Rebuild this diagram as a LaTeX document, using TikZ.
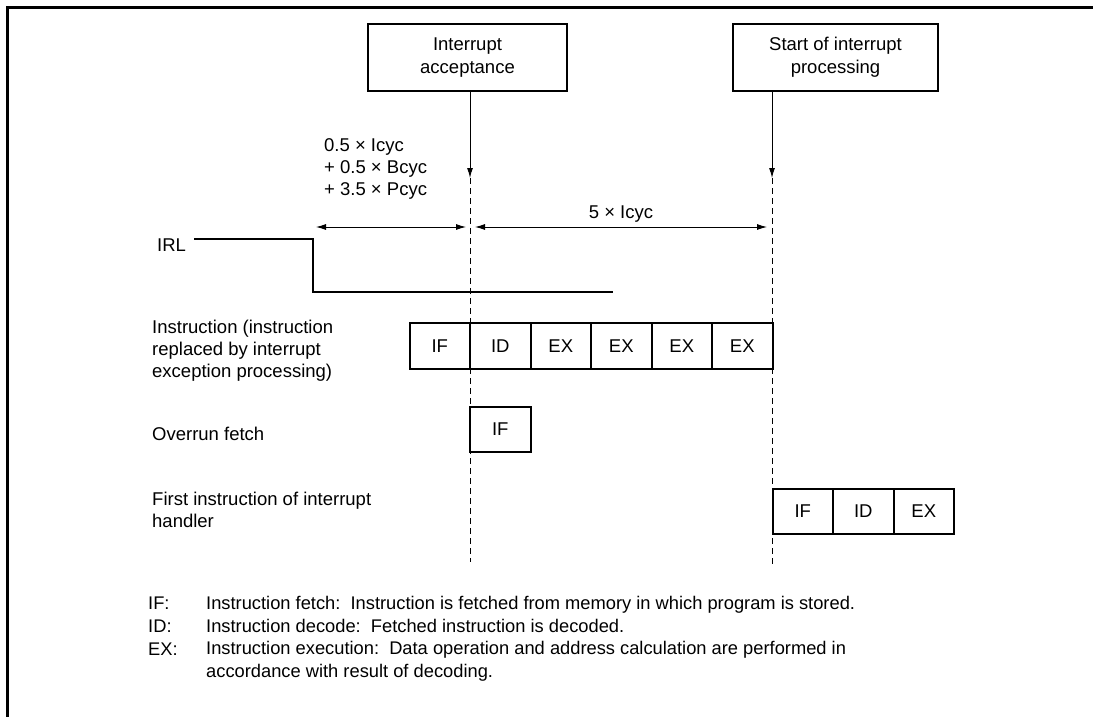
\documentclass[tikz,border=0pt]{standalone}
\usepackage{fontspec}
\setmainfont{Liberation Sans}
\usetikzlibrary{positioning}
\usetikzlibrary{arrows.meta}

\tikzset{
	stage/.style={draw, line width=2pt, minimum width=60.5pt, minimum height=46pt,
		inner sep=0pt, outer sep=0pt, font=\fontsize{18.5}{22.5}\selectfont},
	event/.style={draw, line width=2.2pt, minimum height=67pt, inner sep=0pt,
		align=center, font=\fontsize{18.5}{23}\selectfont},
	rowlabel/.style={inner sep=0pt, align=left, font=\fontsize{18.5}{22}\selectfont},
	keytext/.style={inner sep=0pt, align=left, font=\fontsize{18.3}{23}\selectfont},
	marker/.style={line width=1pt, dash pattern=on 6pt off 4pt},
	pointer/.style={-{Latex[length=10pt,width=6pt]}, line width=1pt},
	dimline/.style={{Latex[length=10pt,width=6pt]}-{Latex[length=10pt,width=6pt]}, line width=0.9pt},
	wave/.style={line width=2.4pt},
}

\begin{document}
\begin{tikzpicture}[x=1pt, y=-1pt]
	\useasboundingbox (0,0) rectangle (1093,717);
	% frame
	\draw[line width=3pt] (7.5,717) -- (7.5,7.5) -- (1093,7.5);

	% events and time markers
	\node[event, minimum width=199pt] (accept) at (467.5,57.5) {Interrupt\\acceptance};
	\node[event, minimum width=205pt] (start) at (835.5,57.5) {Start of interrupt\\processing};
	\coordinate (tA) at (470,178);
	\coordinate (tS) at (772,178);
	\draw[pointer] (accept.south -| tA) -- (tA);
	\draw[pointer] (start.south -| tS) -- (tS);
	\draw[marker] (tA) -- ++(0,384);
	\draw[marker] (tS) -- ++(0,387);

	% timing intervals
	\node[rowlabel, anchor=north west] (delay) at (324,138.5)
		{0.5 × Icyc\\+ 0.5 × Bcyc\\+ 3.5 × Pcyc};
	\coordinate (dimL) at (316,227);
	\draw[dimline] (dimL) -- ([xshift=-4pt]tA |- dimL);
	\draw[dimline] ([xshift=5pt]tA |- dimL) -- ([xshift=-5pt]tS |- dimL)
		node[midway, above, inner sep=4pt, font=\fontsize{18.5}{22.5}\selectfont] (cyc) {5 × Icyc};

	% IRL signal
	\node[rowlabel, anchor=base west] (irl) at (157,251) {IRL};
	\draw[wave] ([xshift=8pt,yshift=-1pt]irl.north east) -| (313,292) -- (613,292);

	% instruction replaced by interrupt exception processing
	\node[rowlabel, anchor=north west] (lblins) at (152,319.5)
		{Instruction (instruction\\replaced by interrupt\\exception processing)};
	\node[stage, anchor=west] (ins1) at (409.5,346) {IF};
	\node[stage, right=0pt of ins1] (ins2) {ID};
	\node[stage, right=0pt of ins2] (ins3) {EX};
	\node[stage, right=0pt of ins3] (ins4) {EX};
	\node[stage, right=0pt of ins4] (ins5) {EX};
	\node[stage, right=0pt of ins5] (ins6) {EX};

	% overrun fetch
	\node[rowlabel, anchor=base west] (lblovr) at (152,440) {Overrun fetch};
	\node[stage, minimum height=45pt, below=38pt of ins2] (ovr) {IF};

	% first instruction of handler
	\node[rowlabel, anchor=north west] (lblhnd) at (152,491.5)
		{First instruction of interrupt\\handler};
	\node[stage, minimum height=45pt, below right=120pt and 0pt of ins6] (hnd1) {IF};
	\node[stage, minimum height=45pt, right=0pt of hnd1] (hnd2) {ID};
	\node[stage, minimum height=45pt, right=0pt of hnd2] (hnd3) {EX};

	% key
	\node[keytext, anchor=base west] (keyIF) at (148,609) {IF:};
	\node[keytext, anchor=base west] (keyID) at (148,632) {ID:};
	\node[keytext, anchor=base west] (keyEX) at (148,655) {EX:};
	\node[keytext, anchor=base west] (txtIF) at (206,609)
		{Instruction fetch:\ \ Instruction is fetched from memory in which program is stored.};
	\node[keytext, anchor=base west] (txtID) at (206,632)
		{Instruction decode:\ \ Fetched instruction is decoded.};
	\node[keytext, anchor=north west] (txtEX) at (206,641.5)
		{Instruction execution:\ \ Data operation and address calculation are performed in\\accordance with result of decoding.};
\end{tikzpicture}
\end{document}
